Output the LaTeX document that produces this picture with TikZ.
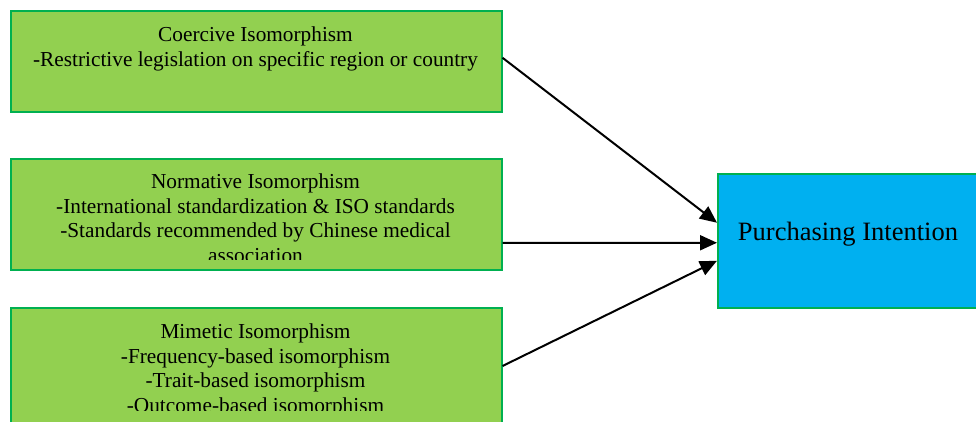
\documentclass[tikz,border=0pt]{standalone}
\usepackage{fontspec}
\setmainfont{Liberation Serif}
\usetikzlibrary{arrows.meta}
\definecolor{boxgreen}{HTML}{92D050}
\definecolor{boxline}{HTML}{00B050}
\definecolor{boxblue}{HTML}{00B0F0}
\begin{document}
\begin{tikzpicture}[x=1bp,y=-1bp,
  gbox/.style={draw=boxline, line width=1.5bp, fill=boxgreen, rectangle, inner sep=0pt, anchor=north west},
  bbox/.style={draw=boxline, line width=1.5bp, fill=boxblue, rectangle, inner sep=0pt, anchor=north west},
  txt/.style={inner sep=0pt, align=center, font=\fontsize{21.3bp}{24.5bp}\selectfont},
  bigtxt/.style={inner sep=0pt, font=\fontsize{26.5bp}{30bp}\selectfont},
  arr/.style={line width=2bp, -{Triangle[length=17bp,width=15bp]}}
]
\useasboundingbox (0,0) rectangle (976,421);
\clip (0,0) rectangle (976,421);
% boxes
\node[gbox, minimum width=491bp, minimum height=101bp] (coer) at (10,10) {};
\node[gbox, minimum width=491bp, minimum height=111bp] (norm) at (10,158) {};
\node[gbox, minimum width=491bp, minimum height=125bp] (mim) at (10,307) {};
\node[bbox, minimum width=262bp, minimum height=134bp] (pur) at (717,173) {};
% texts
\begin{scope}
\clip (11,11) rectangle (500,110);
\node[txt, anchor=north] (coert) at (255.5,26.8) {Coercive Isomorphism\\-Restrictive legislation on specific region or country};
\end{scope}
\begin{scope}
\clip (11,159) rectangle (500,259.3);
\node[txt, anchor=north] (normt) at (255.5,173.8) {Normative Isomorphism\\-International standardization \& ISO standards\\-Standards recommended by Chinese medical\\association};
\end{scope}
\begin{scope}
\clip (11,308) rectangle (500,410);
\node[txt, anchor=north] (mimt) at (255.5,323.8) {Mimetic Isomorphism\\-Frequency-based isomorphism\\-Trait-based isomorphism\\-Outcome-based isomorphism};
\end{scope}
\node[bigtxt, anchor=base] (purt) at (848,240) {Purchasing Intention};
% arrows
\draw[arr] ([yshift=3.5bp]coer.east) -- ([yshift=18bp]pur.west);
\draw[arr] ([yshift=-28.5bp]norm.east) -- ([yshift=-2bp]pur.west);
\draw[arr] ([yshift=-59bp]mim.north east) -- ([yshift=-20bp]pur.west);
\end{tikzpicture}
\end{document}
